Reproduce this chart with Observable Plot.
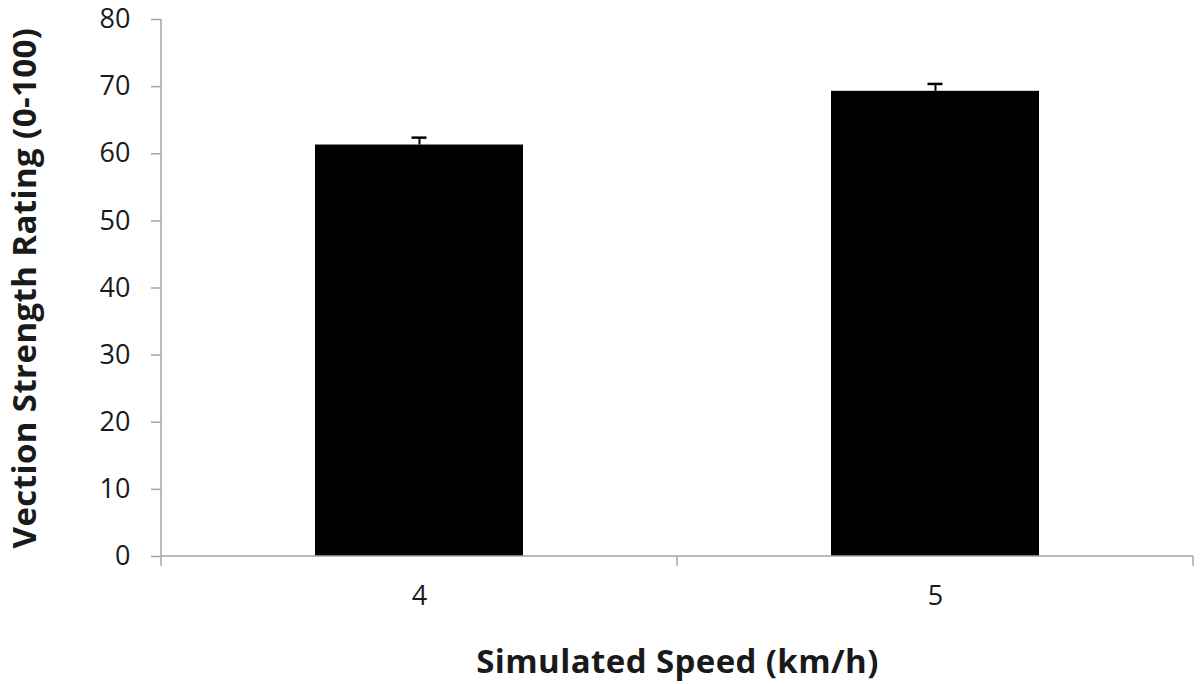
<!DOCTYPE html>
<html><head><meta charset="utf-8">
<script src="https://cdn.jsdelivr.net/npm/d3@7"></script>
<script src="https://cdn.jsdelivr.net/npm/@observablehq/plot@0.6"></script>
<style>
body{margin:0;background:#fff;}
#chart svg{display:block;}
g[aria-label="y-axis label"] text, g[aria-label="x-axis label"] text{font-size:33px;font-weight:bold;letter-spacing:0.4px;}
</style></head><body><div id="chart"></div>
<script>
const speeds = ["4", "5"];
const ratings = [61.3, 69.3];
const errors = [1.1, 1.1];
const yTicks = [0, 10, 20, 30, 40, 50, 60, 70, 80];
const data = speeds.map((s, i) => ({speed: s, rating: ratings[i], err: errors[i]}));
const axisColor = "#a6a6a6";

function axesLines(index, scales, values, dims) {
  const {x, y} = scales;
  const bw = x.bandwidth ? x.bandwidth() : 0;
  const step = x(speeds[1]) - x(speeds[0]);
  const gap = step - bw;
  const left = dims.marginLeft, right = dims.width - dims.marginRight;
  const y0 = y(0), yTop = y(yTicks[yTicks.length - 1]);
  const g = d3.create("svg:g").attr("stroke", axisColor).attr("stroke-width", 1.5).attr("fill", "none");
  g.append("line").attr("x1", left).attr("x2", left).attr("y1", yTop).attr("y2", y0);
  g.append("line").attr("x1", left).attr("x2", right).attr("y1", y0).attr("y2", y0);
  const bounds = speeds.map(s => x(s) - gap / 2).concat([x(speeds[speeds.length - 1]) + bw + gap / 2]);
  for (const b of bounds) g.append("line").attr("x1", b).attr("x2", b).attr("y1", y0).attr("y2", y0 + 10);
  return g.node();
}

const chart = Plot.plot({
  width: 1200, height: 684,
  marginLeft: 161, marginRight: 7, marginTop: 19, marginBottom: 128,
  style: {fontFamily: "'Open Sans', sans-serif", color: "#1a1a1a", background: "#fff"},
  x: {domain: speeds, paddingInner: 0.5965, paddingOuter: 0.298},
  y: {domain: [0, 80]},
  marks: [
    Plot.axisY({ticks: yTicks, tickSize: 10, tickPadding: 21, fontSize: 27, stroke: axisColor, strokeWidth: 1.5,
      label: "Vection Strength Rating (0-100)", labelAnchor: "center", labelArrow: "none", labelOffset: 149}),
    Plot.axisX({tickSize: 0, tickPadding: 29, fontSize: 27,
      label: "Simulated Speed (km/h)", labelAnchor: "center", labelArrow: "none", labelOffset: 116}),
    Plot.barY(data, {x: "speed", y: "rating", fill: "black"}),
    Plot.ruleX(data, {x: "speed", y1: "rating", y2: d => d.rating + d.err, stroke: "black", strokeWidth: 2}),
    Plot.tickY(data, {x: "speed", y: d => d.rating + d.err, stroke: "black", strokeWidth: 2.5, inset: 96.5}),
    axesLines
  ]
});
document.getElementById("chart").append(chart);
</script></body></html>
